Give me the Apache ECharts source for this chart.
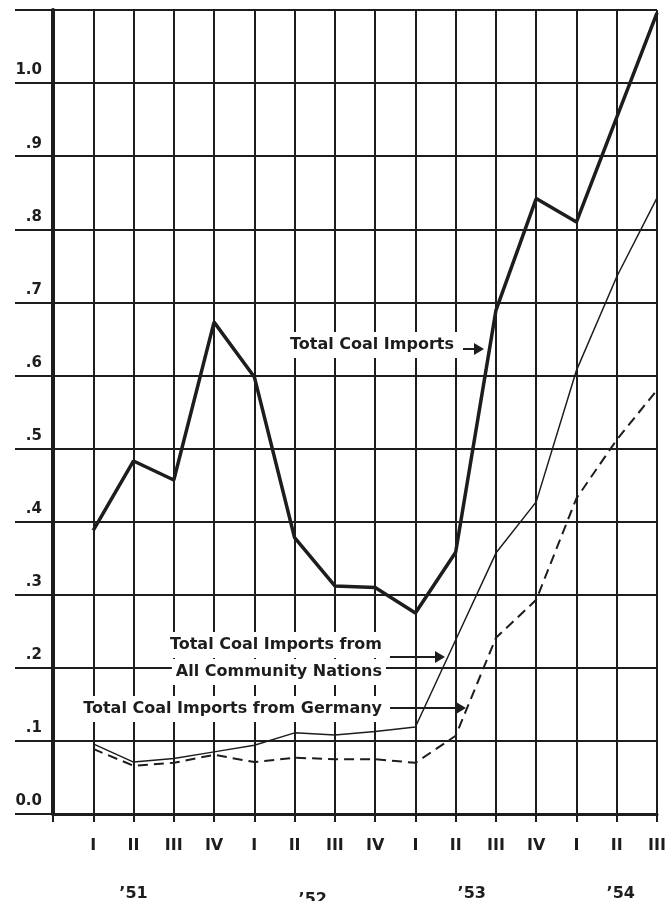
<!DOCTYPE html>
<html>
  <head>
    <meta charset="UTF-8" />
    <title>Coal imports</title>
    <style>
      html,
      body {
        margin: 0;
        padding: 0;
        background: #fff;
      }
      #main {
        width: 672px;
        height: 901px;
      }
    </style>
    <script src="https://cdn.jsdelivr.net/npm/echarts@6/dist/echarts.min.js"></script>
  </head>
  <body>
    <div id="main"></div>
    <script>
      // quarters 1951 I .. 1954 III
      var quarters = ["I", "II", "III", "IV", "I", "II", "III", "IV", "I", "II", "III", "IV", "I", "II", "III"];
      var years = ["\u201951", "\u201952", "\u201953", "\u201954"];
      var yLabels = ["0.0", ".1", ".2", ".3", ".4", ".5", ".6", ".7", ".8", ".9", "1.0", ""];

      var totalImports = [0.388, 0.483, 0.457, 0.673, 0.598, 0.378, 0.312, 0.31, 0.275, 0.358, 0.689, 0.842, 0.81, 0.953, 1.096];
      var communityImports = [0.096, 0.071, 0.076, 0.085, 0.094, 0.111, 0.108, 0.113, 0.119, 0.238, 0.357, 0.427, 0.607, 0.735, 0.843];
      var germanyImports = [0.089, 0.066, 0.07, 0.081, 0.071, 0.077, 0.075, 0.075, 0.07, 0.107, 0.241, 0.293, 0.432, 0.512, 0.58];

      var ink = "#1d1d1d";
      var font = '"DejaVu Sans", Verdana, sans-serif';

      function pts(arr) {
        return arr.map(function (v, i) {
          return [i + 1, v];
        });
      }

      var chart = echarts.init(document.getElementById("main"));

      function label(text, x, y, align) {
        return {
          type: "text",
          z: 100,
          style: {
            text: text,
            x: x,
            y: y,
            align: align || "left",
            verticalAlign: "middle",
            font: "bold 16px " + font,
            fill: ink,
            backgroundColor: "#fff",
            padding: [5, 4]
          }
        };
      }

      function arrow(x1, x2, y) {
        return {
          type: "group",
          z: 100,
          children: [
            { type: "line", shape: { x1: x1, y1: y, x2: x2 - 6, y2: y }, style: { stroke: ink, lineWidth: 2 } },
            { type: "polygon", shape: { points: [[x2 - 10, y - 6], [x2, y], [x2 - 10, y + 6]] }, style: { fill: ink } }
          ]
        };
      }

      var option = {
        backgroundColor: "#fff",
        animation: false,
        grid: { left: 53, right: 15, top: 10, bottom: 87, containLabel: false, outerBoundsMode: "none" },
        xAxis: [
          {
            type: "value",
            min: 0,
            max: 15,
            interval: 1,
            axisLine: { show: true, onZero: false, lineStyle: { color: ink, width: 3 } },
            axisTick: { show: true, length: 8, lineStyle: { color: ink, width: 2 } },
            splitLine: { show: true, lineStyle: { color: ink, width: 2 } },
            axisLabel: {
              margin: 24,
              color: ink,
              fontFamily: font,
              fontWeight: "bold",
              fontSize: 16,
              formatter: function (v) {
                return v === 0 ? "" : quarters[v - 1];
              }
            }
          },
          {
            type: "value",
            min: 0,
            max: 15,
            position: "bottom",
            axisLine: { show: false },
            axisTick: { show: false },
            splitLine: { show: false },
            axisLabel: {
              margin: 72,
              color: ink,
              fontFamily: font,
              fontWeight: "bold",
              fontSize: 16,
              showMinLabel: true,
              showMaxLabel: true,
              customValues: [2, 6.45, 10.4, 14.1],
              formatter: function (v) {
                var i = [2, 6.45, 10.4, 14.1].indexOf(v);
                return i < 0 ? "" : i === 1 ? "{low|" + years[i] + "}" : years[i];
              },
              rich: { low: { padding: [6, 0, 0, 0], fontFamily: font, fontWeight: "bold", fontSize: 16, color: ink } }
            }
          }
        ],
        yAxis: {
          type: "value",
          min: 0,
          max: 1.1,
          interval: 0.1,
          axisLine: { show: true, onZero: false, lineStyle: { color: ink, width: 4 } },
          axisTick: { show: true, length: 38, lineStyle: { color: ink, width: 2 } },
          splitLine: { show: true, lineStyle: { color: ink, width: 2 } },
          axisLabel: {
            margin: 11,
            color: ink,
            fontFamily: font,
            fontWeight: "bold",
            fontSize: 15,
            verticalAlign: "bottom",
            padding: [0, 0, 5, 0],
            formatter: function (v, i) {
              return yLabels[i];
            }
          }
        },
        series: [
          {
            name: "Total Coal Imports",
            type: "line",
            data: pts(totalImports),
            symbol: "none",
            z: 5,
            lineStyle: { color: ink, width: 3.5 }
          },
          {
            name: "Total Coal Imports from All Community Nations",
            type: "line",
            data: pts(communityImports),
            symbol: "none",
            z: 5,
            lineStyle: { color: ink, width: 1.5 }
          },
          {
            name: "Total Coal Imports from Germany",
            type: "line",
            data: pts(germanyImports),
            symbol: "none",
            z: 5,
            lineStyle: { color: ink, width: 2, type: [10, 6] }
          }
        ],
        graphic: [
          label("Total Coal Imports", 286, 345),
          arrow(463, 484, 349),
          label("Total Coal Imports from", 386, 645, "right"),
          label("All Community Nations", 386, 672, "right"),
          arrow(390, 445, 657),
          label("Total Coal Imports from Germany", 386, 709, "right"),
          arrow(390, 466, 708)
        ]
      };

      chart.setOption(option);
    </script>
  </body>
</html>
